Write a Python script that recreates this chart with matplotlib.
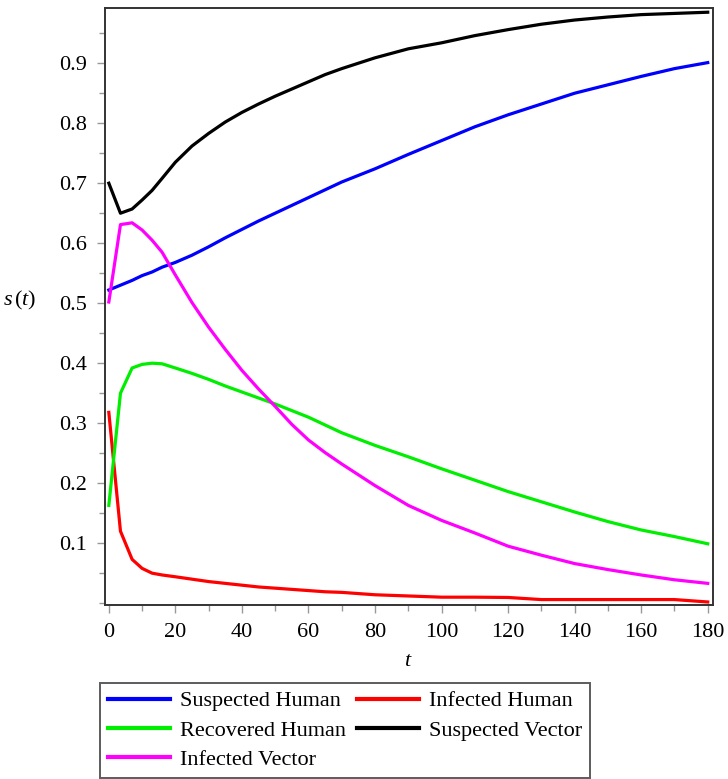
import matplotlib
matplotlib.use("Agg")
import matplotlib.pyplot as plt
from matplotlib.ticker import MultipleLocator

plt.rcParams['font.family'] = ['Liberation Serif', 'DejaVu Serif']
plt.rcParams['mathtext.fontset'] = 'custom'
plt.rcParams['mathtext.rm'] = 'Liberation Serif'
plt.rcParams['mathtext.it'] = 'Liberation Serif:italic'

# sample times (days)
t = [0, 3.5, 7, 10, 13, 16, 20, 25, 30, 35, 40, 45, 50, 55, 60, 65, 70,
     80, 90, 100, 110, 120, 130, 140, 150, 160, 170, 180]

suspected_human = [0.522, 0.530, 0.538, 0.546, 0.552, 0.560, 0.568, 0.580, 0.594,
                   0.609, 0.623, 0.637, 0.650, 0.663, 0.676, 0.689, 0.702,
                   0.724, 0.748, 0.771, 0.794, 0.814, 0.832, 0.850, 0.864,
                   0.878, 0.891, 0.901]
infected_human = [0.318, 0.120, 0.073, 0.058, 0.050, 0.047, 0.044, 0.040, 0.036,
                  0.033, 0.030, 0.027, 0.025, 0.023, 0.021, 0.019, 0.018,
                  0.014, 0.012, 0.010, 0.010, 0.0095, 0.006, 0.006, 0.006,
                  0.006, 0.006, 0.002]
recovered_human = [0.163, 0.350, 0.392, 0.398, 0.400, 0.399, 0.392, 0.383, 0.373,
                   0.362, 0.352, 0.342, 0.332, 0.321, 0.310, 0.297, 0.284,
                   0.263, 0.244, 0.224, 0.205, 0.186, 0.169, 0.152, 0.136,
                   0.122, 0.111, 0.099]
suspected_vector = [0.700, 0.650, 0.657, 0.672, 0.688, 0.708, 0.735, 0.762, 0.783,
                    0.802, 0.818, 0.832, 0.845, 0.857, 0.869, 0.881, 0.891,
                    0.909, 0.924, 0.934, 0.946, 0.956, 0.965, 0.972, 0.977,
                    0.981, 0.983, 0.985]
infected_vector = [0.502, 0.631, 0.634, 0.622, 0.605, 0.585, 0.547, 0.501, 0.460,
                   0.423, 0.388, 0.357, 0.328, 0.298, 0.272, 0.251, 0.232,
                   0.196, 0.163, 0.138, 0.117, 0.095, 0.080, 0.066, 0.056,
                   0.047, 0.039, 0.033]

fig = plt.figure(figsize=(7.28, 7.79), dpi=100)
ax = fig.add_axes([0.144, 0.2234, 0.835, 0.7663])

lw = 2.3
l_sh, = ax.plot(t, suspected_human, color='#0000ff', lw=lw, label='Suspected Human')
l_ih, = ax.plot(t, infected_human, color='#ff0000', lw=lw, label='Infected Human')
l_rh, = ax.plot(t, recovered_human, color='#00ee00', lw=lw, label='Recovered Human')
l_sv, = ax.plot(t, suspected_vector, color='black', lw=lw, label='Suspected Vector')
l_iv, = ax.plot(t, infected_vector, color='#ff00ff', lw=lw, label='Infected Vector')

ax.set_xlim(-1.2, 181.5)
ax.set_ylim(-0.003, 0.992)

ax.xaxis.set_major_locator(MultipleLocator(20))
ax.xaxis.set_minor_locator(MultipleLocator(10))
ax.set_yticks([0.1, 0.2, 0.3, 0.4, 0.5, 0.6, 0.7, 0.8, 0.9])
ax.yaxis.set_minor_locator(MultipleLocator(0.05))
ax.set_yticklabels(['0.1', '0.2', '0.3', '0.4', '0.5', '0.6', '0.7', '0.8', '0.9'])

for s in ax.spines.values():
    s.set_color('#333333')
    s.set_linewidth(1.4)

ax.tick_params(which='both', direction='out', color='#999999', labelsize=16, width=1)
ax.tick_params(which='major', length=6)
ax.tick_params(which='minor', length=4)
ax.tick_params(axis='y', pad=7)
ax.tick_params(axis='x', pad=7)

ax.set_xlabel(r'$t$', fontsize=16, labelpad=7)
ax.set_ylabel(r'$s\,(t)$', fontsize=16, rotation=0, labelpad=0)
ax.yaxis.set_label_coords(-0.14, 0.49)

leg = fig.legend(handles=[l_sh, l_rh, l_iv, l_ih, l_sv], ncol=2,
                 loc='upper left', bbox_to_anchor=(0.137, 0.1232),
                 fontsize=16, frameon=True, fancybox=False, borderaxespad=0,
                 handlelength=2.8, handletextpad=0.45, columnspacing=0.5,
                 labelspacing=0.4, borderpad=0.35)
leg.get_frame().set_edgecolor('#333333')
leg.get_frame().set_linewidth(1.4)
for line in leg.get_lines():
    line.set_linewidth(3)

fig.savefig('out.png', dpi=100)
